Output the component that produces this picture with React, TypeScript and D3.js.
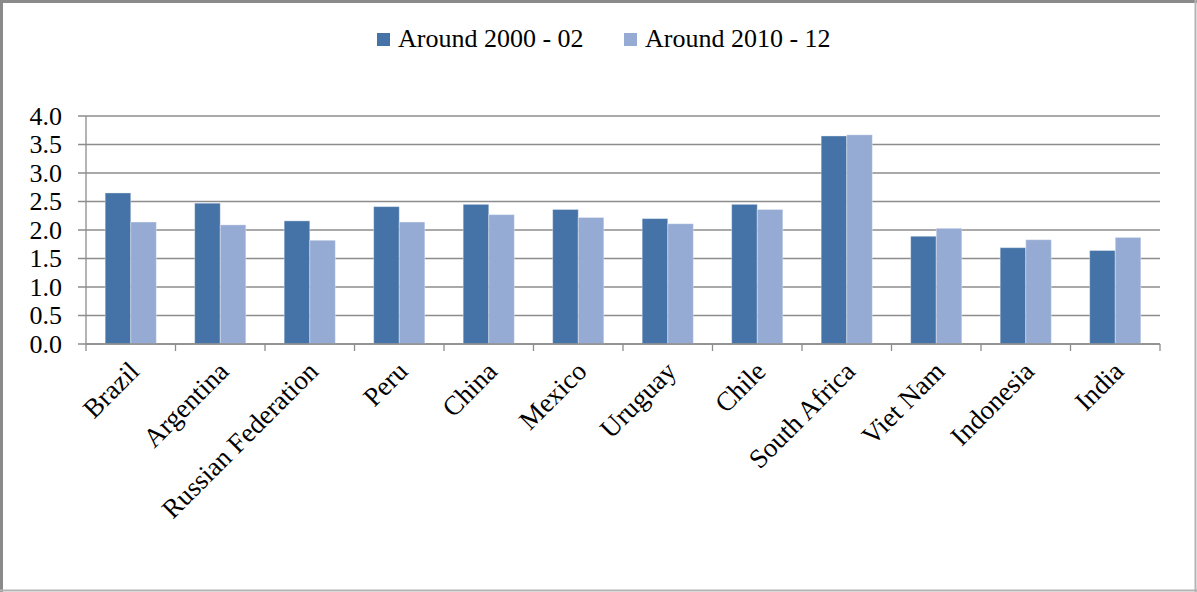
import React from "react";
import * as d3 from "d3";

const categories = ["Brazil", "Argentina", "Russian Federation", "Peru", "China", "Mexico", "Uruguay", "Chile", "South Africa", "Viet Nam", "Indonesia", "India"];
const series2000 = [2.65, 2.47, 2.16, 2.41, 2.45, 2.36, 2.20, 2.45, 3.65, 1.89, 1.69, 1.64];
const series2010 = [2.14, 2.09, 1.82, 2.14, 2.27, 2.22, 2.11, 2.36, 3.67, 2.03, 1.83, 1.87];
const seriesNames = ["Around 2000 - 02", "Around 2010 - 12"];
const yTicks = [0, 0.5, 1, 1.5, 2, 2.5, 3, 3.5, 4];

const W = 1197;
const H = 592;
const FONT = "'Liberation Serif', 'Times New Roman', serif";
const COLORS = ["#4572A7", "#95ABD3"];

export default function App() {
  const left = 86, right = 1160, top = 116, bottom = 344;
  const x = d3.scaleBand<string>().domain(categories).range([left, right]).paddingInner(0).paddingOuter(0);
  const y = d3.scaleLinear().domain([0, 4]).range([bottom, top]);
  const bw = x.bandwidth() / 3.5;
  const sub = d3.scaleBand<number>().domain([0, 1]).range([0, 2 * bw]);
  const data = [series2000, series2010];
  const boundaries = d3.range(categories.length + 1).map((i) => left + i * x.step());

  return (
    <svg width={W} height={H} style={{ position: "absolute", left: 0, top: 0, background: "#fff" }} fontFamily={FONT}>
      <rect x={0} y={0} width={W} height={H} fill="#fff" />
      {/* frame */}
      <line x1={1.5} y1={0} x2={1.5} y2={H} stroke="#8a8a8a" strokeWidth={3} />
      <line x1={0} y1={1.5} x2={W} y2={1.5} stroke="#8a8a8a" strokeWidth={3} />
      <line x1={W - 1.5} y1={0} x2={W - 1.5} y2={H} stroke="#b4b4b4" strokeWidth={2} />
      <line x1={0} y1={H - 1.5} x2={W} y2={H - 1.5} stroke="#b4b4b4" strokeWidth={2} />

      {/* gridlines */}
      {yTicks.map((t) => (
        <line key={"g" + t} x1={78} x2={right} y1={y(t)} y2={y(t)} stroke="#8c8c8c" strokeWidth={1.3} />
      ))}
      {yTicks.map((t) => (
        <text key={"t" + t} x={62} y={y(t)} dy="0.33em" textAnchor="end" fontSize={26} fill="#000">
          {d3.format(".1f")(t)}
        </text>
      ))}
      <line x1={left} x2={left} y1={top} y2={bottom} stroke="#8c8c8c" strokeWidth={1.3} />

      {/* bars */}
      {data.map((s, si) =>
        s.map((v, i) => {
          const cx = (x(categories[i]) as number) + x.bandwidth() / 2;
          const x0 = cx - bw + (sub(si) as number);
          return (
            <rect key={si + "-" + i} x={x0} y={y(v)} width={sub.bandwidth()} height={y(0) - y(v)} fill={COLORS[si]} stroke="#ffffff" strokeOpacity={0.35} strokeWidth={1} />
          );
        })
      )}

      {/* x axis */}
      <line x1={left} x2={right} y1={bottom} y2={bottom} stroke="#8c8c8c" strokeWidth={1.3} />
      {boundaries.map((b, i) => (
        <line key={"xt" + i} x1={b} x2={b} y1={bottom} y2={bottom + 7} stroke="#8c8c8c" strokeWidth={1.3} />
      ))}
      {categories.map((c) => {
        const cx = (x(c) as number) + x.bandwidth() / 2;
        const ax = cx + 10, ay = 373;
        return (
          <text key={c} x={ax} y={ay} transform={`rotate(-45 ${ax} ${ay})`} textAnchor="end" fontSize={27} fill="#000">
            {c}
          </text>
        );
      })}

      {/* legend */}
      {seriesNames.map((n, i) => {
        const lx = [377, 624][i];
        return (
          <g key={n}>
            <rect x={lx} y={33} width={13} height={13} fill={COLORS[i]} />
            <text x={lx + 21} y={47} fontSize={26} fill="#000">{n}</text>
          </g>
        );
      })}
    </svg>
  );
}
